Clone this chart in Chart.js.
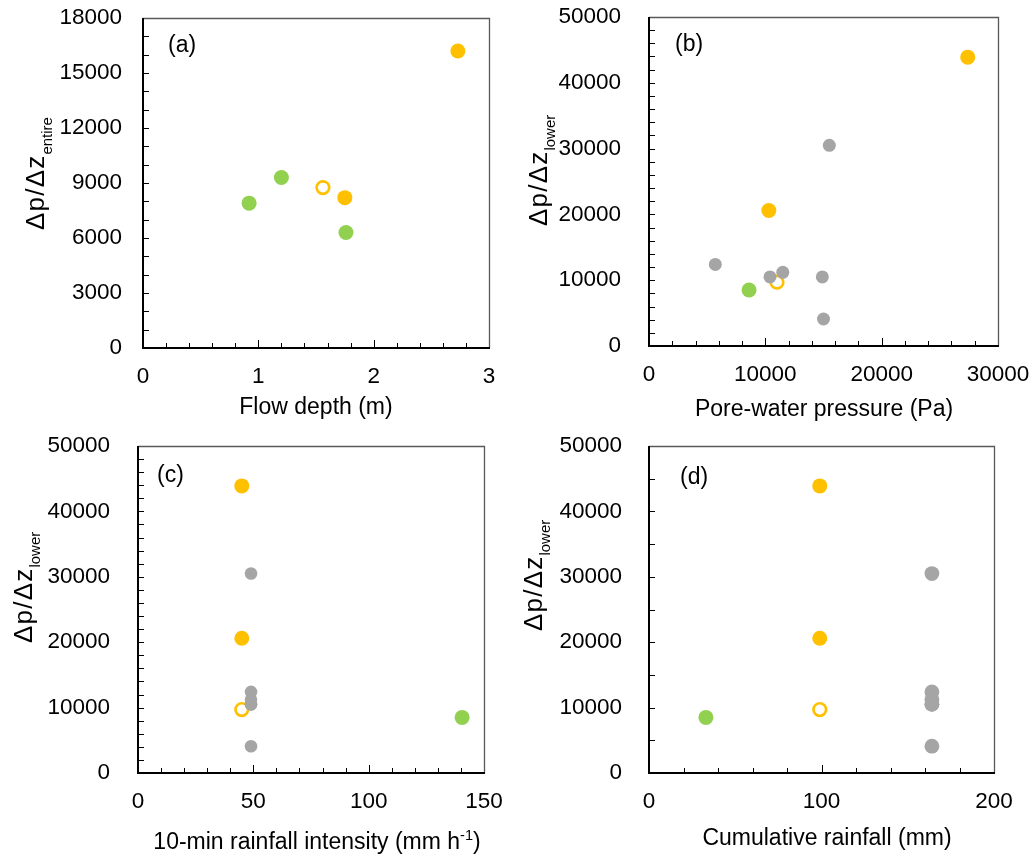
<!DOCTYPE html>
<html>
<head>
<meta charset="utf-8">
<script src="https://cdn.jsdelivr.net/npm/chart.js@4"></script>
<style>
body{margin:0;background:#fff;}
#wrap{position:relative;width:1034px;height:857px;overflow:hidden;}
canvas{position:absolute;}
</style>
</head>
<body>
<div id="wrap">
<canvas id="ca" width="517" height="428" style="left:0;top:0"></canvas>
<canvas id="cb" width="517" height="428" style="left:517px;top:0"></canvas>
<canvas id="cc" width="517" height="429" style="left:0;top:428px"></canvas>
<canvas id="cd" width="517" height="429" style="left:517px;top:428px"></canvas>
</div>
<script>
// (a) flow depth vs dp/dz over the entire section
var a_green_x = [0.92, 1.2, 1.76];
var a_green_y = [7900, 9300, 6300];
var a_orange_x = [1.75, 2.73];
var a_orange_y = [8200, 16200];
var a_open_x = [1.56];
var a_open_y = [8750];

// dp/dz lower section, same events in (b), (c), (d)
var gray_y = [30500, 12400, 10500, 11200, 10500, 4100];
var orange_y = [43900, 20600];
var open_y = [9700];
var green_y = [8500];

var b_gray_x = [15500, 5700, 10400, 11500, 14900, 15000];
var b_orange_x = [27400, 10300];
var b_open_x = [11000];
var b_green_x = [8600];

var c_gray_x = [49, 49, 49, 49, 49, 49];
var c_orange_x = [45, 45];
var c_open_x = [45];
var c_green_x = [140.5];

var d_gray_x = [164, 164, 164, 164, 164, 164];
var d_orange_x = [99, 99];
var d_open_x = [99];
var d_green_x = [33];

var FONT = '"Liberation Sans", Arial, sans-serif';
var ORANGE = '#FFC000', GREEN = '#92D050', GRAY = '#A5A5A5';

function pts(xx, yy) {
  var out = [];
  for (var i = 0; i < xx.length; i++) out.push({x: xx[i], y: yy[i]});
  return out;
}

function drawParts(ctx, parts, x0, y0) {
  var x = x0;
  for (var i = 0; i < parts.length; i++) {
    var p = parts[i];
    ctx.font = p.size + 'px ' + FONT;
    ctx.letterSpacing = (p.ls || 0) + 'px';
    ctx.fillText(p.t, x, y0 + (p.dy || 0));
    x += ctx.measureText(p.t).width;
  }
  ctx.letterSpacing = '0px';
  return x - x0;
}
function partsWidth(ctx, parts) {
  var w = 0;
  for (var i = 0; i < parts.length; i++) {
    ctx.font = parts[i].size + 'px ' + FONT;
    ctx.letterSpacing = (parts[i].ls || 0) + 'px';
    w += ctx.measureText(parts[i].t).width;
  }
  ctx.letterSpacing = '0px';
  return w;
}

var decor = {
  id: 'decor',
  afterDraw: function(chart, args, o) {
    var ctx = chart.ctx, ca = chart.chartArea;
    var xs = chart.scales.x, ys = chart.scales.y;
    ctx.save();
    ctx.strokeStyle = '#000';
    ctx.lineWidth = 1;
    // inward ticks on the y axis
    var n = Math.round((ys.max - ys.min) / o.yMinor);
    for (var i = 0; i <= n; i++) {
      var py = Math.round(ys.getPixelForValue(ys.min + i * o.yMinor)) + 0.5;
      ctx.beginPath(); ctx.moveTo(ca.left, py); ctx.lineTo(ca.left + 6, py); ctx.stroke();
    }
    // inward ticks on the x axis
    n = Math.round((xs.max - xs.min) / o.xMinor);
    for (i = 0; i <= n; i++) {
      var v = xs.min + i * o.xMinor;
      var major = Math.abs(v / o.xMajor - Math.round(v / o.xMajor)) < 1e-6;
      var px = Math.round(xs.getPixelForValue(v)) + 0.5;
      ctx.beginPath(); ctx.moveTo(px, ca.bottom); ctx.lineTo(px, ca.bottom - (major ? 8 : 5)); ctx.stroke();
    }
    // frame: grey top/right, black left/bottom
    ctx.strokeStyle = '#595959';
    ctx.lineWidth = 1.3;
    ctx.beginPath();
    ctx.moveTo(ca.left, ca.top + 0.5); ctx.lineTo(ca.right + 0.5, ca.top + 0.5); ctx.lineTo(ca.right + 0.5, ca.bottom);
    ctx.stroke();
    ctx.strokeStyle = '#000';
    ctx.lineWidth = 2;
    ctx.beginPath();
    ctx.moveTo(ca.left, ca.top); ctx.lineTo(ca.left, ca.bottom); ctx.lineTo(ca.right + 1, ca.bottom);
    ctx.stroke();

    ctx.fillStyle = '#000';
    ctx.textAlign = 'left';
    // panel letter
    ctx.font = '23px ' + FONT;
    ctx.textBaseline = 'middle';
    ctx.fillText(o.label, o.labelX, o.labelY);
    ctx.textBaseline = 'alphabetic';
    // x title, centred
    var w = partsWidth(ctx, o.xTitle);
    drawParts(ctx, o.xTitle, o.xTitleCx - w / 2, o.xTitleY);
    // y title, rotated, starting at the bottom
    ctx.translate(o.yTitleX, o.yTitleStart);
    ctx.rotate(-Math.PI / 2);
    drawParts(ctx, o.yTitle, 0, 0);
    ctx.restore();
  }
};

function noPad(s) { s.paddingTop = 0; s.paddingBottom = 0; s.paddingLeft = 0; s.paddingRight = 0; }

function makeChart(id, ds, cfg) {
  return new Chart(document.getElementById(id), {
    type: 'scatter',
    data: {datasets: ds},
    options: {
      responsive: false,
      animation: false,
      layout: {padding: {top: cfg.padTop, right: cfg.padRight, left: 0, bottom: 0}},
      scales: {
        x: {
          type: 'linear', min: cfg.xMin, max: cfg.xMax,
          grid: {display: false, drawTicks: false},
          border: {display: false},
          ticks: {stepSize: cfg.xMajor, padding: cfg.xPad, color: '#000', font: {family: FONT, size: 22.5}, autoSkip: false, maxRotation: 0,
            callback: function(v) { return String(v); }},
          afterFit: function(s) { s.height = cfg.xH; noPad(s); }
        },
        y: {
          type: 'linear', min: cfg.yMin, max: cfg.yMax,
          grid: {display: false, drawTicks: false},
          border: {display: false},
          ticks: {stepSize: cfg.yMajor, padding: cfg.yPad, color: '#000', font: {family: FONT, size: 22.5}, autoSkip: false,
            callback: function(v) { return String(v); }},
          afterFit: function(s) { s.width = cfg.yW; noPad(s); }
        }
      },
      plugins: {
        legend: {display: false},
        tooltip: {enabled: false},
        decor: cfg.decor
      }
    },
    plugins: [decor]
  });
}

function filled(data, color, r) {
  return {data: data, pointRadius: r, pointBackgroundColor: color, pointBorderWidth: 0, pointBorderColor: color, showLine: false};
}
function open(data) {
  return {data: data, pointRadius: 6.3, pointBackgroundColor: 'rgba(0,0,0,0)', pointBorderWidth: 2.7, pointBorderColor: ORANGE, showLine: false};
}

var yLower = [{t: 'Δp/Δz', size: 26, ls: 1.2}, {t: 'lower', size: 15, dy: 8}];

makeChart('ca', [
  filled(pts(a_green_x, a_green_y), GREEN, 7.5),
  filled(pts(a_orange_x, a_orange_y), ORANGE, 7.5),
  open(pts(a_open_x, a_open_y))
], {
  padTop: 18, padRight: 28, xH: 80, yW: 143, xPad: 15, yPad: 21,
  xMin: 0, xMax: 3, xMajor: 1, yMin: 0, yMax: 18000, yMajor: 3000,
  decor: {xMinor: 0.2, xMajor: 1, yMinor: 1000, label: '(a)', labelX: 168, labelY: 46,
    xTitle: [{t: 'Flow depth (m)', size: 23}], xTitleCx: 316, xTitleY: 414,
    yTitle: [{t: 'Δp/Δz', size: 26, ls: 1.2}, {t: 'entire', size: 15, dy: 8}], yTitleX: 44, yTitleStart: 230}
});

makeChart('cb', [
  filled(pts(b_gray_x, gray_y), GRAY, 6.5),
  filled(pts(b_green_x, green_y), GREEN, 7.5),
  filled(pts(b_orange_x, orange_y), ORANGE, 7.5),
  open(pts(b_open_x, open_y))
], {
  padTop: 17, padRight: 36, xH: 82, yW: 132, xPad: 15, yPad: 28,
  xMin: 0, xMax: 30000, xMajor: 10000, yMin: 0, yMax: 50000, yMajor: 10000,
  decor: {xMinor: 2000, xMajor: 10000, yMinor: 2000, label: '(b)', labelX: 158, labelY: 45,
    xTitle: [{t: 'Pore-water pressure (Pa)', size: 23}], xTitleCx: 307, xTitleY: 416,
    yTitle: yLower, yTitleX: 30, yTitleStart: 226}
});

makeChart('cc', [
  filled(pts(c_gray_x, gray_y), GRAY, 6.3),
  filled(pts(c_green_x, green_y), GREEN, 7.5),
  filled(pts(c_orange_x, orange_y), ORANGE, 7.5),
  open(pts(c_open_x, open_y))
], {
  padTop: 18, padRight: 33, xH: 84, yW: 138, xPad: 15, yPad: 28,
  xMin: 0, xMax: 150, xMajor: 50, yMin: 0, yMax: 50000, yMajor: 10000,
  decor: {xMinor: 10, xMajor: 50, yMinor: 2000, label: '(c)', labelX: 157, labelY: 48,
    xTitle: [{t: '10-min rainfall intensity (mm h', size: 23}, {t: '-1', size: 14.5, dy: -9}, {t: ')', size: 23}], xTitleCx: 317, xTitleY: 421,
    yTitle: yLower, yTitleX: 32, yTitleStart: 215}
});

makeChart('cd', [
  filled(pts(d_gray_x, gray_y), GRAY, 7.4),
  filled(pts(d_green_x, green_y), GREEN, 7.5),
  filled(pts(d_orange_x, orange_y), ORANGE, 7.5),
  open(pts(d_open_x, open_y))
], {
  padTop: 18, padRight: 40, xH: 84, yW: 132, xPad: 15, yPad: 27,
  xMin: 0, xMax: 200, xMajor: 100, yMin: 0, yMax: 50000, yMajor: 10000,
  decor: {xMinor: 20, xMajor: 100, yMinor: 5000, label: '(d)', labelX: 163, labelY: 50,
    xTitle: [{t: 'Cumulative rainfall (mm)', size: 23}], xTitleCx: 310, xTitleY: 417,
    yTitle: yLower, yTitleX: 25, yTitleStart: 203}
});
</script>
</body>
</html>
